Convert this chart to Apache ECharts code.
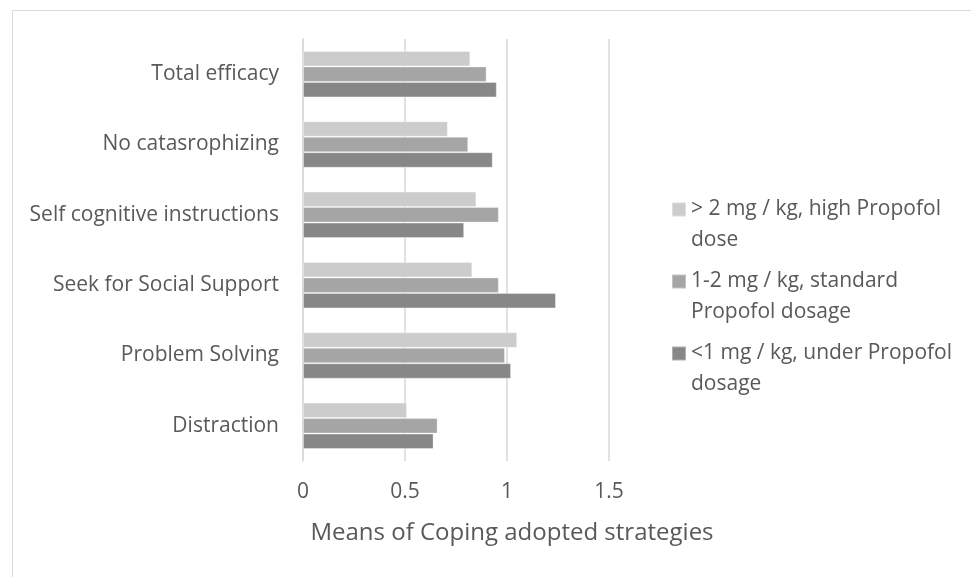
<!DOCTYPE html>
<html>
<head>
<meta charset="utf-8">
<script src="https://cdn.jsdelivr.net/npm/echarts@6/dist/echarts.min.js"></script>
<style>html,body{margin:0;padding:0;background:#fff;}#c{width:971px;height:577px;}</style>
</head>
<body>
<div id="c"></div>
<script>
const categories = ["Total efficacy", "No catasrophizing", "Self cognitive instructions", "Seek for Social Support", "Problem Solving", "Distraction"];
const seriesNames = ["> 2 mg / kg, high Propofol dose", "1-2 mg / kg, standard Propofol dosage", "<1 mg / kg, under Propofol dosage"];
const legendLabels = ["> 2 mg / kg, high Propofol\ndose", "1-2 mg / kg, standard\nPropofol dosage", "<1 mg / kg, under Propofol\ndosage"];
const highDose = [0.82, 0.71, 0.85, 0.83, 1.05, 0.51];
const standardDose = [0.90, 0.81, 0.96, 0.96, 0.99, 0.66];
const underDose = [0.95, 0.93, 0.79, 1.24, 1.02, 0.64];
const xTicks = { min: 0, max: 1.5, interval: 0.5 };
const colors = ["#cccccc", "#a5a5a5", "#878787"];
const axisTitle = "Means of Coping adopted strategies";

const FONT = "Open Sans";
const TXT = "#595959";
const LH = 31;
const chart = echarts.init(document.getElementById('c'), null, { renderer: 'canvas' });
const values = [highDose, standardDose, underDose];
chart.setOption({
  animation: false,
  textStyle: { fontFamily: FONT },
  graphic: [{
    type: 'rect', shape: { x: 12.5, y: 10.5, width: 1000, height: 700 },
    style: { fill: 'none', stroke: '#d9d9d9', lineWidth: 1 }, silent: true
  }],
  grid: { left: 303, width: 306, top: 39, height: 422, containLabel: false },
  xAxis: {
    type: 'value', min: xTicks.min, max: xTicks.max, interval: xTicks.interval,
    axisLine: { show: false }, axisTick: { show: false },
    splitLine: { show: true, lineStyle: { color: '#d9d9d9', width: 1.5 } },
    axisLabel: { color: TXT, fontSize: 21, fontFamily: FONT, margin: 21 },
    name: axisTitle, nameLocation: 'middle', nameGap: 60,
    nameTextStyle: { color: TXT, fontSize: 24, fontFamily: FONT, padding: [0, 0, 0, 112] }
  },
  yAxis: {
    type: 'category', data: categories, inverse: true,
    axisLine: { show: true, lineStyle: { color: '#d9d9d9', width: 1.5 } },
    axisTick: { show: false },
    axisLabel: { color: TXT, fontSize: 21, fontFamily: FONT, margin: 24 }
  },
  legend: {
    orient: 'vertical', left: 666, top: 158, itemWidth: 14, itemHeight: 14, itemGap: -21,
    icon: 'rect',
    data: seriesNames,
    formatter: function (n) { return '\n' + legendLabels[seriesNames.indexOf(n)]; },
    textStyle: { color: TXT, fontSize: 21, fontFamily: FONT, lineHeight: LH }
  },
  series: seriesNames.map((n, i) => ({
    name: n, type: 'bar', data: values[i],
    barGap: '0%', barCategoryGap: '34%',
    itemStyle: { color: colors[i], borderColor: 'rgba(255,255,255,0.35)', borderWidth: 1 }
  }))
});
</script>
</body>
</html>
